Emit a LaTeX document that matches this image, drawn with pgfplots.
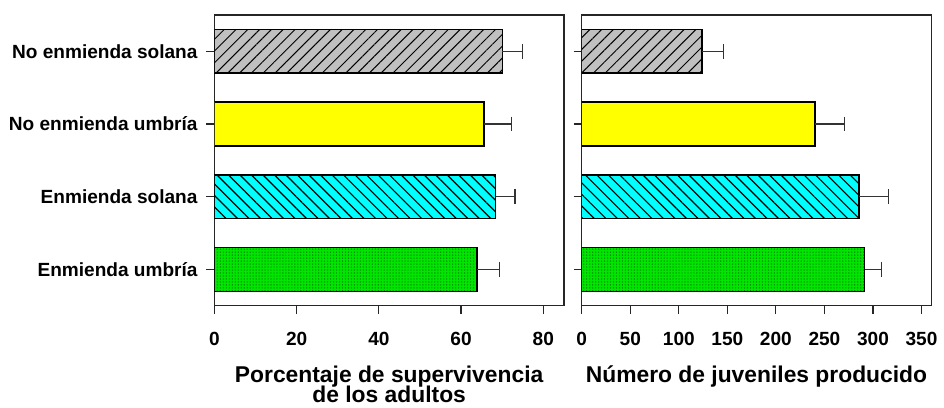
\documentclass[border=0pt]{standalone}
\usepackage{fontspec}
\setmainfont{Liberation Sans}
\usepackage{pgfplots}
\pgfplotsset{compat=1.18}
\usetikzlibrary{patterns.meta}
\definecolor{grayfill}{RGB}{192,192,192}
\definecolor{yel}{RGB}{255,255,0}
\definecolor{cy}{RGB}{0,255,255}
\definecolor{gr}{RGB}{0,230,0}
\definecolor{grdot}{RGB}{0,120,0}
\begin{document}
\begin{tikzpicture}
\pgfplotsset{
 myaxis/.style={
  scale only axis, width=176pt, height=146.5pt,
  xbar, bar width=22pt, bar shift=0pt,
  ymin=-0.5, ymax=3.5, xmin=0,
  ytick={0,1,2,3},
  tick align=outside, xtick pos=bottom, ytick pos=left,
  major tick length=4pt,
  axis line style={line width=0.7pt, black!85},
  tick style={line width=0.6pt, black!85},
  /pgf/number format/assume math mode=true,
  ticklabel style={font=\fontsize{9.6}{11}\selectfont\bfseries},
  xticklabel style={yshift=-6pt},
  yticklabel style={xshift=-1pt},
  xlabel style={font=\fontsize{11.5}{12}\selectfont\bfseries, align=center,
     at={(axis description cs:0.5,0)}, anchor=north, inner sep=0pt, yshift=-30.2pt},
  error bars/x dir=plus, error bars/x explicit,
  error bars/error mark=|,
  error bars/error mark options={mark size=3.75pt, line width=0.6pt, black!80},
  error bars/error bar style={line width=0.6pt, black!80},
 },
 bardraw/.style={draw=black, line width=0.7pt},
}
\begin{axis}[myaxis, xmax=85, xtick={0,20,40,60,80},
  yticklabels={Enmienda umbría, Enmienda solana, No enmienda umbría, No enmienda solana},
  xlabel={Porcentaje de supervivencia\\[-2pt]de los adultos}]
\addplot[bardraw, fill=gr, postaction={pattern={Dots[distance=1.5pt,radius=0.35pt]}, pattern color=grdot}] coordinates {(63.9,0) +- (5.5,0)};
\addplot[bardraw, fill=cy, postaction={pattern={Lines[angle=-45,distance=4.1pt,line width=0.6pt]}, pattern color=black}] coordinates {(68.4,1) +- (4.7,0)};
\addplot[bardraw, fill=yel] coordinates {(65.6,2) +- (6.6,0)};
\addplot[bardraw, fill=grayfill, postaction={pattern={Lines[angle=45,distance=4.2pt,line width=0.5pt]}, pattern color=black}] coordinates {(70,3) +- (4.9,0)};
\end{axis}
\begin{axis}[myaxis, at={(185pt,0)}, xmax=360, xtick={0,50,100,150,200,250,300,350},
  yticklabels={},
  xlabel={Número de juveniles producido}]
\addplot[bardraw, fill=gr, postaction={pattern={Dots[distance=1.5pt,radius=0.35pt]}, pattern color=grdot}] coordinates {(291.4,0) +- (17.8,0)};
\addplot[bardraw, fill=cy, postaction={pattern={Lines[angle=-45,distance=4.1pt,line width=0.6pt]}, pattern color=black}] coordinates {(285.6,1) +- (30.4,0)};
\addplot[bardraw, fill=yel] coordinates {(240.3,2) +- (30.7,0)};
\addplot[bardraw, fill=grayfill, postaction={pattern={Lines[angle=45,distance=4.2pt,line width=0.5pt]}, pattern color=black}] coordinates {(124,3) +- (22,0)};
\end{axis}
\path (-108pt,-51pt) rectangle (364pt,154pt);
\end{tikzpicture}
\end{document}
